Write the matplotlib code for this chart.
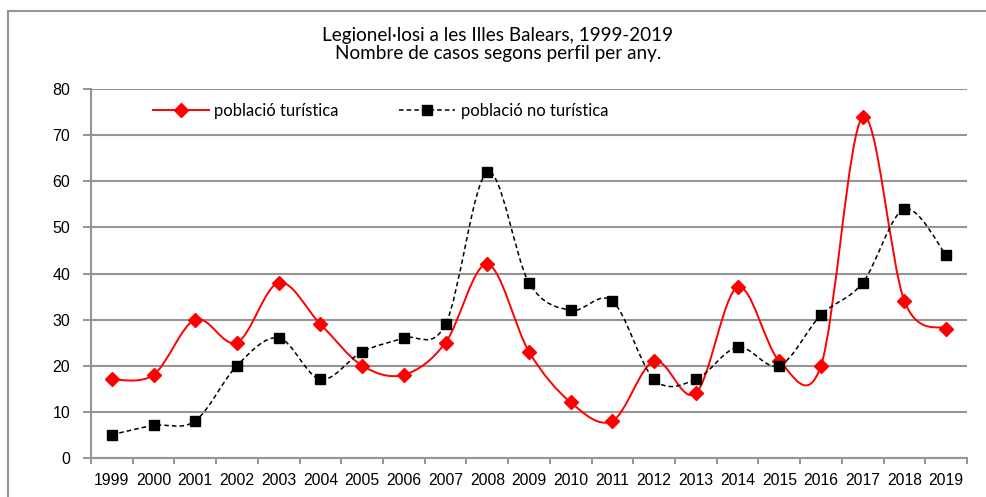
import matplotlib
matplotlib.use("Agg")
import matplotlib.pyplot as plt
import numpy as np
from matplotlib.path import Path
from matplotlib.patches import PathPatch
from matplotlib.lines import Line2D

# Dades (llegides del gràfic)
anys = ["1999", "2000", "2001", "2002", "2003", "2004", "2005", "2006", "2007", "2008",
        "2009", "2010", "2011", "2012", "2013", "2014", "2015", "2016", "2017", "2018", "2019"]
turistica = [17, 18, 30, 25, 38, 29, 20, 18, 25, 42, 23, 12, 8, 21, 14, 37, 21, 20, 74, 34, 28]
no_turistica = [5, 7, 8, 20, 26, 17, 23, 26, 29, 62, 38, 32, 34, 17, 17, 24, 20, 31, 38, 54, 44]

titol1 = "Legionel·losi a les Illes Balears, 1999-2019"
titol2 = "Nombre de casos segons perfil per any."
GRIS = "#959595"


def corba_suau(x, y):
    # corba tipus Excel (Catmull-Rom passada a Bezier cubica)
    x = np.asarray(x, float)
    y = np.asarray(y, float)
    n = len(x)
    verts = [(x[0], y[0])]
    codes = [Path.MOVETO]
    for i in range(n - 1):
        i0 = max(i - 1, 0)
        i3 = min(i + 2, n - 1)
        c1 = (x[i] + (x[i + 1] - x[i0]) / 6, y[i] + (y[i + 1] - y[i0]) / 6)
        c2 = (x[i + 1] - (x[i3] - x[i]) / 6, y[i + 1] - (y[i3] - y[i]) / 6)
        verts += [c1, c2, (x[i + 1], y[i + 1])]
        codes += [Path.CURVE4] * 3
    return Path(verts, codes)


fig = plt.figure(figsize=(9.87, 4.97), dpi=100)
ax = fig.add_axes([91 / 987, 1 - 457.7 / 497, 876 / 987, 368.4 / 497])

x = np.arange(len(anys))

ax.add_patch(PathPatch(corba_suau(x, turistica), fill=False, edgecolor="red", lw=1.4, zorder=3))
ax.add_patch(PathPatch(corba_suau(x, no_turistica), fill=False, edgecolor="black", lw=1.1,
                       linestyle=(0, (3, 2)), zorder=3))
ax.plot(x, turistica, ls="none", marker="D", color="red", markersize=6.8, zorder=4)
ax.plot(x, no_turistica, ls="none", marker="s", color="black", markersize=7, zorder=4)

ax.set_xlim(-0.5, len(anys) - 0.5)
ax.set_ylim(0, 80)
ax.set_yticks(np.arange(0, 81, 10))
ax.set_xticks(x)
ax.set_xticklabels(anys)
ax.set_xticks(np.arange(-0.5, len(anys), 1), minor=True)

ax.yaxis.grid(True, color=GRIS, lw=1.5)
ax.set_axisbelow(True)
for s in ["top", "right"]:
    ax.spines[s].set_visible(False)
for s in ["left", "bottom"]:
    ax.spines[s].set_color(GRIS)
    ax.spines[s].set_linewidth(1.5)

ax.tick_params(axis="x", which="major", length=0, pad=11, labelsize=11.3,
               labelfontfamily="Liberation Sans")
ax.tick_params(axis="x", which="minor", length=4, width=1.4, color=GRIS)
ax.tick_params(axis="y", length=6, width=1.4, color=GRIS, pad=9, labelsize=11.5,
               labelfontfamily="Liberation Sans")

fig.text(0.5045, 1 - 35 / 497, titol1, ha="center", va="center", fontsize=13.6, family="Lato")
fig.text(0.5045, 1 - 54 / 497, titol2, ha="center", va="center", fontsize=13.6, family="Lato")

h1 = Line2D([], [], color="red", lw=1.4, marker="D", markersize=6.8)
h2 = Line2D([], [], color="black", lw=1.1, linestyle=(0, (3, 2)), marker="s", markersize=7)
fig.legend([h1, h2], ["població turística", "població no turística"], ncol=2,
           loc="center left", bbox_to_anchor=(152.7 / 987, 1 - 110.7 / 497),
           frameon=False, borderpad=0, borderaxespad=0, handlelength=3.35,
           handletextpad=0.35, columnspacing=3.6, numpoints=1,
           prop={"family": "Lato", "size": 12})

# marc exterior del gràfic
fig.add_artist(Line2D([8.5 / 987, 8.5 / 987], [0, 1 - 11 / 497], color=GRIS, lw=1.5,
                      transform=fig.transFigure))
fig.add_artist(Line2D([8.5 / 987, 1], [1 - 11 / 497, 1 - 11 / 497], color=GRIS, lw=1.5,
                      transform=fig.transFigure))

fig.savefig("out.png", dpi=100)
